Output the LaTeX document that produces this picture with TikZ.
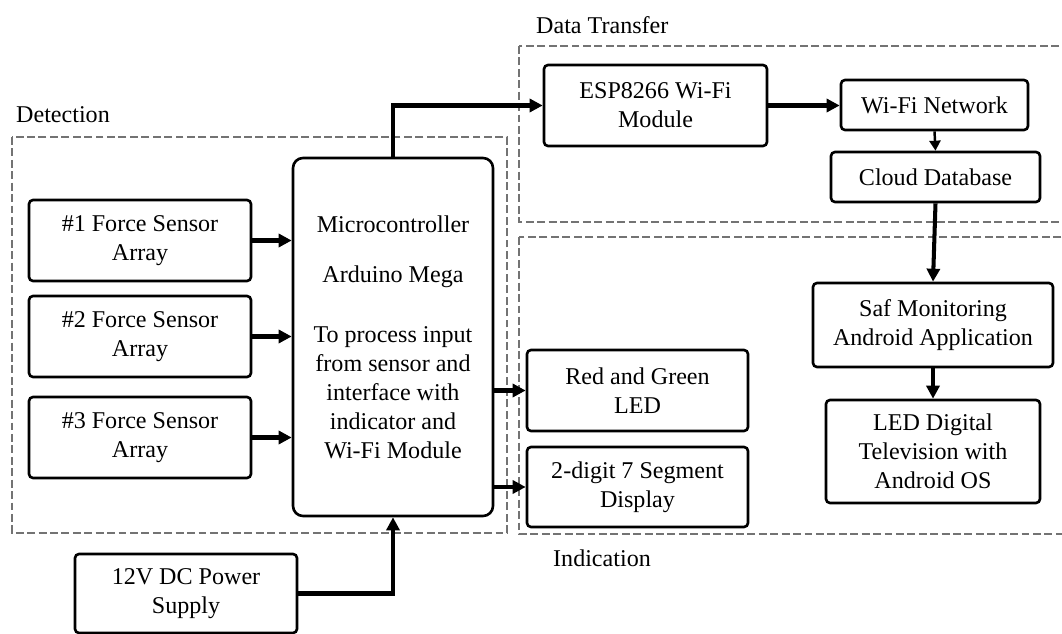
\documentclass[tikz,border=0pt]{standalone}
\usepackage{fontspec}
\setmainfont{Liberation Serif}
\usetikzlibrary{arrows.meta}

\begin{document}
\begin{tikzpicture}[>={Triangle[length=0.26cm,width=0.26cm]},
    block/.style={draw, line width=1.5pt, rounded corners=0.08cm, align=center,
        inner sep=1pt, font=\fontsize{13.7}{16.5}\selectfont},
    conn/.style={->, line width=2.3pt},
    zone/.style={draw=black!55, line width=0.6pt, dash pattern=on 4.5pt off 2pt},
    zonelabel/.style={anchor=west, font=\fontsize{13.7}{16.5}\selectfont}]

    % Marco de la figura
    \clip (0,0) rectangle (21.24,-12.68);

    % Zonas punteadas y sus etiquetas
    \draw[zone] (0.24,-2.74) rectangle (10.14,-10.66);
    \draw[zone] (10.38,-0.92) rectangle (21.40,-4.44);
    \draw[zone] (10.38,-4.74) rectangle (21.40,-10.68);
    \node[zonelabel] (detlabel) at (0.20,-2.30) {Detection};
    \node[zonelabel] (datalabel) at (10.60,-0.50) {Data Transfer};
    \node[zonelabel] (indlabel) at (10.94,-11.16) {Indication};

    % Sensores de fuerza
    \node[block, minimum width=4.44cm, minimum height=1.62cm] (sensA) at (2.80,-4.81) {\#1 Force Sensor\\Array};
    \node[block, minimum width=4.44cm, minimum height=1.62cm] (sensB) at (2.80,-6.73) {\#2 Force Sensor\\Array};
    \node[block, minimum width=4.44cm, minimum height=1.62cm] (sensC) at (2.80,-8.75) {\#3 Force Sensor\\Array};

    % Microcontrolador
    \node[block, rounded corners=0.2cm, minimum width=4.0cm, minimum height=7.16cm] (mcu) at (7.86,-6.74)
        {Microcontroller\\[0.42cm] Arduino Mega\\[0.62cm] To process input\\from sensor and\\interface with\\indicator and\\Wi-Fi Module};

    % Fuente de alimentacion
    \node[block, minimum width=4.44cm, minimum height=1.58cm] (psu) at (3.72,-11.87) {12V DC Power\\Supply};

    % Transferencia de datos
    \node[block, minimum width=4.46cm, minimum height=1.62cm] (esp) at (13.11,-2.11) {ESP8266 Wi-Fi\\Module};
    \node[block, minimum width=3.74cm, minimum height=1.0cm] (wifi) at (18.69,-2.10) {Wi-Fi Network};
    \node[block, minimum width=4.18cm, minimum height=1.0cm] (cloud) at (18.71,-3.54) {Cloud Database};

    % Indicadores
    \node[block, minimum width=4.42cm, minimum height=1.62cm] (led) at (12.75,-7.81) {Red and Green\\LED};
    \node[block, minimum width=4.42cm, minimum height=1.60cm] (seg) at (12.75,-9.74) {2-digit 7 Segment\\Display};
    \node[block, minimum width=4.8cm, minimum height=1.68cm] (app) at (18.66,-6.50) {Saf Monitoring\\Android Application};
    \node[block, minimum width=4.28cm, minimum height=2.06cm] (tv) at (18.66,-9.03) {LED Digital\\Television with\\Android OS};

    % Conexiones
    \draw[conn] (sensA) -- (sensA -| mcu.west);
    \draw[conn] (sensB) -- (sensB -| mcu.west);
    \draw[conn] (sensC) -- (sensC -| mcu.west);
    \draw[conn] (led -| mcu.east) -- (led.west);
    \draw[conn] (seg -| mcu.east) -- (seg.west);
    \draw[conn] (mcu.north) |- (esp.west);
    \draw[conn] (psu.east) -| (mcu.south);
    \draw[conn] (esp.east) -- (esp.east -| wifi.west);
    \draw[->, line width=1.4pt, >={Triangle[length=0.2cm,width=0.22cm]}] (wifi.south) -- (cloud.north);
    \draw[conn] (cloud.south) -- (app.north);
    \draw[conn] (app.south) -- (tv.north);

\end{tikzpicture}
\end{document}
